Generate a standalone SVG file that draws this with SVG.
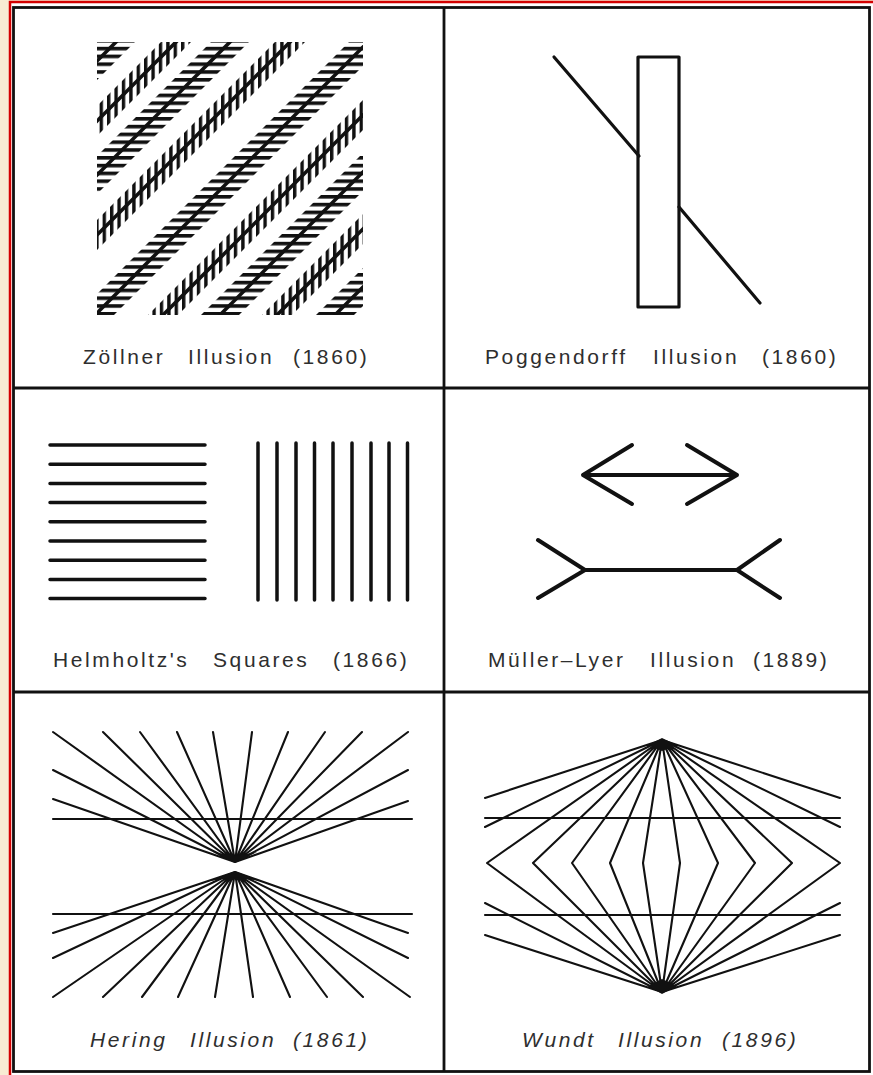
<svg xmlns="http://www.w3.org/2000/svg" xmlns:xlink="http://www.w3.org/1999/xlink" width="873" height="1075" viewBox="0 0 873 1075">
<style>
.frame{stroke:#111;stroke-width:2.8;fill:none}
.ink{stroke:#111;fill:none;stroke-linecap:round;stroke-linejoin:round}
.thin{stroke-width:2.1}
.med{stroke-width:3.2}
.bold{stroke-width:4}
.blob{fill:#111;stroke:none}
.lbl{font-family:"Liberation Sans",Arial,sans-serif;font-size:21px;fill:#2e2e2e;letter-spacing:2.6px}
.it{font-style:italic}
</style>
<defs>
<pattern id="hs" width="10" height="7.8" patternUnits="userSpaceOnUse"><rect x="0" y="0" width="10" height="3.6" fill="#111"/></pattern>
<pattern id="vs" width="7.4" height="10" patternUnits="userSpaceOnUse"><rect x="0" y="0" width="3.4" height="10" fill="#111"/></pattern>
<clipPath id="zsq"><rect x="97" y="42" width="266" height="273"/></clipPath>
<g id="zb"><polygon points="-49,30 -11,30 -311,330 -349,330" fill="url(#hs)"/><line x1="-30" y1="30" x2="-330" y2="330" stroke="#111" stroke-width="3.6"/></g>
<g id="hb"><polygon points="-45,30 -15,30 -315,330 -345,330" fill="url(#vs)"/><line x1="-30" y1="30" x2="-330" y2="330" stroke="#111" stroke-width="3.6"/></g>
</defs>
<rect width="873" height="1075" fill="#f8ecd3"/>
<rect x="11" y="3" width="862" height="1072" fill="#fff"/>
<path d="M10 1075 V2 H873" stroke="#d40000" stroke-width="2.5" fill="none"/>
<g id="frame" class="frame">
<rect x="13.5" y="7.5" width="856" height="1064"/>
<line x1="444" y1="7.5" x2="444" y2="1071.5"/>
<line x1="13.5" y1="388" x2="869.5" y2="388"/>
<line x1="13.5" y1="692" x2="869.5" y2="692"/>
</g>
<g id="zollner" clip-path="url(#zsq)">
<use xlink:href="#zb" x="158"/><use xlink:href="#zb" x="272"/><use xlink:href="#zb" x="410"/><use xlink:href="#zb" x="535"/><use xlink:href="#zb" x="650"/>
<use xlink:href="#hb" x="218"/><use xlink:href="#hb" x="332"/><use xlink:href="#hb" x="478"/><use xlink:href="#hb" x="592"/>
</g>
<g id="poggendorff" class="ink med">
<rect x="638" y="57" width="41" height="250"/>
<line x1="554" y1="57" x2="639" y2="156"/>
<line x1="679" y1="207" x2="760" y2="303"/>
</g>
<g id="helmholtz" class="ink" stroke-width="3.5">
<path d="M50 445H205M50 464.2H205M50 483.4H205M50 502.6H205M50 521.8H205M50 541H205M50 560.2H205M50 579.4H205M50 598.6H205"/>
<path d="M258 443V600M277 443V600M296 443V600M314.5 443V600M333 443V600M352 443V600M371 443V600M389 443V600M407.5 443V600"/>
</g>
<g id="mullerlyer" class="ink bold">
<path d="M583 475H737M632 445L583 475L632 504M687 445L737 475L687 504"/>
<path d="M585 570H737M538 540L585 570L538 598M780 540L737 570L780 598"/>
</g>
<g id="hering">
<g class="ink thin">
<path d="M53 819H412M53 914H412"/>
<path d="M235 862L53 732M235 862L103 732M235 862L140 732M235 862L177 732M235 862L213 732M235 862L252 732M235 862L288 732M235 862L325 732M235 862L362 732M235 862L408 732M235 862L53 770M235 862L53 799M235 862L408 770M235 862L408 801"/>
<path d="M235 872L53 997M235 872L103 997M235 872L142 997M235 872L178 997M235 872L215 997M235 872L253 997M235 872L290 997M235 872L327 997M235 872L363 997M235 872L410 997M235 872L53 958M235 872L53 933M235 872L408 958M235 872L408 933"/>
</g>
<path class="blob" d="M213 852L235 863L257 852L235 856Z"/>
<path class="blob" d="M210 881L235 871L260 881L235 877Z"/>
</g>
<g id="wundt">
<g class="ink thin">
<path d="M485 818H840M485 915H840"/>
<path d="M662 740L485 798M662 740L485 827M662 740L840 798M662 740L840 827M662 992L485 903M662 992L485 935M662 992L840 903M662 992L840 935"/>
<path d="M662 740L487 863L662 992M662 740L533 863L662 992M662 740L572 863L662 992M662 740L610 863L662 992M662 740L643 863L662 992M662 740L680 863L662 992M662 740L718 863L662 992M662 740L755 863L662 992M662 740L792 863L662 992M662 740L840 863L662 992"/>
</g>
<path class="blob" d="M648 745L662 738L677 745L662 751Z"/>
<path class="blob" d="M648 986L662 994L677 986L662 979Z"/>
</g>
<g id="labels">
<text class="lbl" y="364"><tspan x="83">Zöllner</tspan><tspan x="188">Illusion</tspan><tspan x="293">(1860)</tspan></text>
<text class="lbl" y="364"><tspan x="485">Poggendorff</tspan><tspan x="653">Illusion</tspan><tspan x="762">(1860)</tspan></text>
<text class="lbl" y="667"><tspan x="53">Helmholtz's</tspan><tspan x="213">Squares</tspan><tspan x="333">(1866)</tspan></text>
<text class="lbl" y="667"><tspan x="488">Müller–Lyer</tspan><tspan x="650">Illusion</tspan><tspan x="753">(1889)</tspan></text>
<text class="lbl it" y="1047"><tspan x="90">Hering</tspan><tspan x="190">Illusion</tspan><tspan x="293">(1861)</tspan></text>
<text class="lbl it" y="1047"><tspan x="522">Wundt</tspan><tspan x="618">Illusion</tspan><tspan x="722">(1896)</tspan></text>
</g>
</svg>
